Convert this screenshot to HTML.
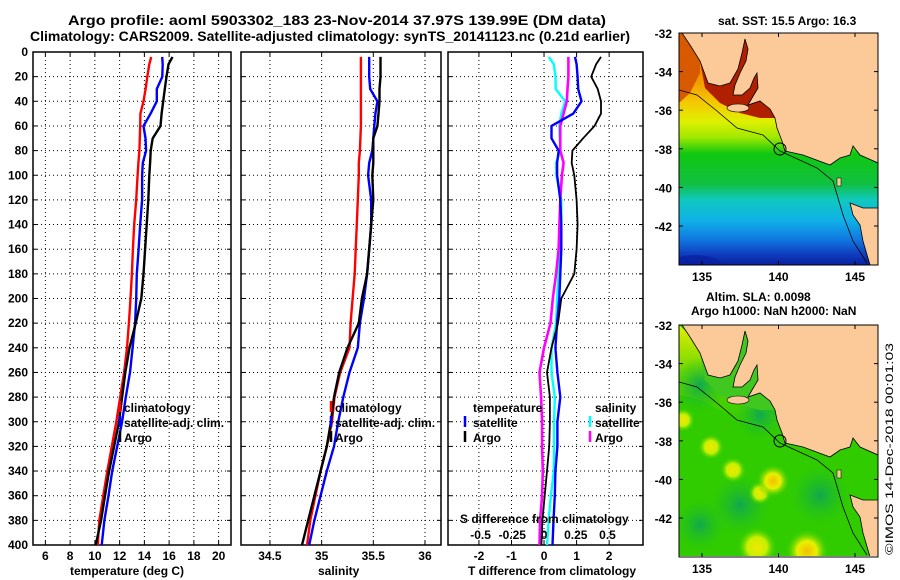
<!DOCTYPE html>
<html><head><meta charset="utf-8"><title>Argo profile</title>
<style>
html,body{margin:0;padding:0;background:#fff;}
svg{display:block;font-family:"Liberation Sans",sans-serif;font-weight:bold;}
text{fill:#000;}
</style></head>
<body>
<svg id="chart" width="900" height="580" viewBox="0 0 900 580" xmlns="http://www.w3.org/2000/svg">
<defs>
  <linearGradient id="sstGrad" x1="0" y1="0" x2="0" y2="1">
    <stop offset="0" stop-color="#e87000"/>
    <stop offset="0.2" stop-color="#f09800"/>
    <stop offset="0.3" stop-color="#f5c800"/>
    <stop offset="0.38" stop-color="#e0f000"/>
    <stop offset="0.45" stop-color="#a0e800"/>
    <stop offset="0.52" stop-color="#10c810"/>
    <stop offset="0.65" stop-color="#10c040"/>
    <stop offset="0.72" stop-color="#10c8c0"/>
    <stop offset="0.81" stop-color="#10b0e8"/>
    <stop offset="0.89" stop-color="#1078e0"/>
    <stop offset="0.95" stop-color="#1040c0"/>
    <stop offset="1" stop-color="#0820a0"/>
  </linearGradient>
  <radialGradient id="blob">
    <stop offset="0" stop-color="#f0e800"/>
    <stop offset="0.5" stop-color="#c8f000"/>
    <stop offset="1" stop-color="#30cc00" stop-opacity="0"/>
  </radialGradient>
  <radialGradient id="blobHot">
    <stop offset="0" stop-color="#f5c000"/>
    <stop offset="0.45" stop-color="#e8f000"/>
    <stop offset="1" stop-color="#30cc00" stop-opacity="0"/>
  </radialGradient>
  <radialGradient id="blobDark">
    <stop offset="0" stop-color="#10a850"/>
    <stop offset="1" stop-color="#20c020" stop-opacity="0"/>
  </radialGradient>
  <linearGradient id="coastYellow" x1="0" y1="0" x2="0" y2="1">
    <stop offset="0" stop-color="#e8f000"/>
    <stop offset="1" stop-color="#30cc00" stop-opacity="0"/>
  </linearGradient>
  <clipPath id="mapClip1"><rect x="679" y="33" width="199" height="232"/></clipPath>
  <clipPath id="mapClip2"><rect x="679" y="325" width="199" height="231"/></clipPath>
</defs>

<text x="68" y="25" font-size="13.5" textLength="538" lengthAdjust="spacingAndGlyphs">Argo profile: aoml 5903302_183 23-Nov-2014 37.97S 139.99E (DM data)</text>
<text x="30" y="41" font-size="13.5" textLength="600" lengthAdjust="spacingAndGlyphs">Climatology: CARS2009. Satellite-adjusted climatology: synTS_20141123.nc (0.21d earlier)</text>

<g id="panels"></g>
<g id="maps"></g>

<text transform="translate(893,555) rotate(-90)" font-size="11" font-weight="normal" textLength="212" lengthAdjust="spacingAndGlyphs">©IMOS 14-Dec-2018 00:01:03</text>
</svg>

<script>
// ---------- data ----------
const depths = [4,10,20,30,40,50,60,70,80,90,100,120,140,160,180,200,220,240,260,280,300,320,340,360,380,400];
const tempClim = [14.55,14.4,14.24,14.1,13.93,13.68,13.66,13.63,13.6,13.52,13.45,13.34,13.18,13.07,12.99,12.88,12.75,12.6,12.36,12.05,11.73,11.37,11.0,10.68,10.36,10.23];
const tempSat  = [15.44,15.48,15.45,15.0,15.0,14.5,13.93,14.09,14.14,13.87,13.82,13.82,13.66,13.53,13.39,13.34,13.25,13.05,12.84,12.5,12.2,11.8,11.4,11.1,10.77,10.55];
const tempArgo = [16.27,15.95,15.79,15.65,15.52,15.39,15.3,14.67,14.51,14.46,14.4,14.32,14.19,14.06,13.93,13.75,13.3,12.8,12.46,12.2,11.95,11.55,11.15,10.82,10.5,10.07];
const salClim = [35.38,35.38,35.38,35.38,35.38,35.38,35.38,35.375,35.37,35.36,35.36,35.35,35.34,35.33,35.32,35.30,35.28,35.27,35.18,35.125,35.1,35.05,34.99,34.94,34.89,34.86];
const salSat  = [35.46,35.46,35.46,35.47,35.54,35.52,35.51,35.50,35.49,35.46,35.45,35.48,35.48,35.46,35.44,35.41,35.37,35.35,35.27,35.21,35.16,35.12,35.05,34.99,34.93,34.88];
const salArgo = [35.57,35.57,35.57,35.56,35.56,35.55,35.54,35.5,35.5,35.5,35.49,35.5,35.48,35.46,35.44,35.39,35.36,35.25,35.17,35.12,35.09,35.05,34.99,34.93,34.87,34.81];
const tDiffSat  = [0.95,1.0,1.03,1.05,1.15,0.9,0.23,0.23,0.45,0.4,0.4,0.5,0.53,0.53,0.5,0.47,0.4,0.35,0.41,0.5,0.41,0.41,0.35,0.33,0.29,0.26];
const tDiffArgo = [1.75,1.6,1.45,1.65,1.75,1.75,1.55,1.2,0.87,0.85,0.93,1.0,1.03,1.0,0.93,0.53,0.43,0.23,0.09,0.18,0.18,0.16,0.09,0.02,-0.05,-0.08];
const sDiffSat  = [0.038,0.077,0.09,0.092,0.167,0.136,0.12,0.123,0.128,0.095,0.097,0.136,0.136,0.128,0.115,0.103,0.095,0.059,0.059,0.085,0.079,0.079,0.077,0.054,0.036,0.023];
const sDiffArgo = [0.192,0.192,0.192,0.185,0.179,0.154,0.128,0.128,0.128,0.154,0.141,0.128,0.121,0.115,0.095,0.069,0.051,0,-0.036,-0.023,-0.015,-0.015,-0.010,-0.015,-0.031,-0.036];
const depthTicks = [0,20,40,60,80,100,120,140,160,180,200,220,240,260,280,300,320,340,360,380,400];
const tempTicks = [6,8,10,12,14,16,18,20];
const salTicks = [34.5,35,35.5,36];
const salTickLabels = ["34.5","35","35.5","36"];
const tDiffTicks = [-2,-1,0,1,2];
const sDiffTicks = [-0.5,-0.25,0,0.25,0.5];
const sDiffTickLabels = ["-0.5","-0.25","0","0.25","0.5"];

// ---------- helpers ----------
const NS = "http://www.w3.org/2000/svg";
const root = document.getElementById('panels');
function mk(tag, parent, attrs){ const e=document.createElementNS(NS,tag); for(const k in attrs) e.setAttribute(k,attrs[k]); parent.appendChild(e); return e; }
const yTop=52, yBot=545;
function yScale(d){ return yTop + (d/400)*(yBot-yTop); }

function panel(name, x0, x1, xmin, xmax){
  const g = mk('g', root, {});
  
  
  const xs = v => x0 + (v-xmin)/(xmax-xmin)*(x1-x0);
  return {g, xs, x0, x1};
}
function grid(p, xticks, xlabels, xlabelName){
  const g=p.g;
  depthTicks.forEach(d=>{
    const y=yScale(d);
    if(d>0 && d<400){
      const l=mk('line',g,{x1:p.x0,x2:p.x1,y1:y,y2:y,stroke:'#000','stroke-width':1,'stroke-dasharray':'1,3'});
      
      
    }
    mk('line',g,{x1:p.x0,x2:p.x0+4,y1:y,y2:y,stroke:'#000'});
    mk('line',g,{x1:p.x1-4,x2:p.x1,y1:y,y2:y,stroke:'#000'});
  });
  xticks.forEach((v,i)=>{
    const x=p.xs(v);
    const l=mk('line',g,{x1:x,x2:x,y1:yTop,y2:yBot,stroke:'#000','stroke-width':1,'stroke-dasharray':'1,3'});
    
    
    mk('line',g,{x1:x,x2:x,y1:yBot-4,y2:yBot,stroke:'#000'});
    mk('line',g,{x1:x,x2:x,y1:yTop,y2:yTop+4,stroke:'#000'});
    const t=mk('text',g,{x:x,y:yBot+15,'font-size':12,'text-anchor':'middle'});
    t.textContent = xlabels ? xlabels[i] : String(v);
    
    
  });
  const r=mk('rect',g,{x:p.x0,y:yTop,width:p.x1-p.x0,height:yBot-yTop,fill:'none',stroke:'#000','stroke-width':1.5});
  
  
}
function line(p, vals, color, name, xsFn, w){
  const f = xsFn || p.xs;
  const pts = vals.map((v,i)=>f(v).toFixed(1)+','+yScale(depths[i]).toFixed(1)).join(' ');
  const pl = mk('polyline', p.g, {points:pts, fill:'none', stroke:color, 'stroke-width':w||2.4, 'stroke-linejoin':'miter'});
  
  
}
function txt(parent, x, y, s, name, opts){
  const t=mk('text',parent,Object.assign({x:x,y:y,'font-size':12},opts||{}));
  t.textContent=s;
  
  
  return t;
}
function dash(parent,x,y,color,name){
  const l=mk('line',parent,{x1:x,x2:x,y1:y-10,y2:y+1,stroke:color,'stroke-width':2.5});
  
  
}

// y tick labels
depthTicks.forEach(d=>{
  const t=mk('text',root,{x:28,y:yScale(d)+4,'font-size':12,'text-anchor':'end'});
  t.textContent=String(d);
  
  
});

// panel 1 temperature
const p1 = panel('temperature-panel', 33, 231, 5, 21);
grid(p1, tempTicks, null, 'temperature-tick-label');
line(p1, tempClim, '#ff0000', 'temperature-climatology-line');
line(p1, tempSat, '#0000ff', 'temperature-satellite-line');
line(p1, tempArgo, '#000000', 'temperature-argo-line');
txt(p1.g, 70, 575, 'temperature (deg C)', 'temperature-axis-title');
dash(p1.g, 120, 411, '#ff0000', 'legend-climatology-marker');
dash(p1.g, 120, 426, '#0000ff', 'legend-satellite-marker');
dash(p1.g, 120, 441, '#000000', 'legend-argo-marker');
txt(p1.g, 124, 412, 'climatology', 'legend-climatology-label');
txt(p1.g, 124, 427, 'satellite-adj. clim.', 'legend-satellite-label');
txt(p1.g, 124, 442, 'Argo', 'legend-argo-label');

// panel 2 salinity
const p2 = panel('salinity-panel', 241, 441, 34.22, 36.155);
grid(p2, salTicks, salTickLabels, 'salinity-tick-label');
line(p2, salClim, '#ff0000', 'salinity-climatology-line');
line(p2, salSat, '#0000ff', 'salinity-satellite-line');
line(p2, salArgo, '#000000', 'salinity-argo-line');
txt(p2.g, 318, 575, 'salinity', 'salinity-axis-title');
dash(p2.g, 331, 411, '#ff0000', 'legend-climatology-marker');
dash(p2.g, 331, 426, '#0000ff', 'legend-satellite-marker');
dash(p2.g, 331, 441, '#000000', 'legend-argo-marker');
txt(p2.g, 335, 412, 'climatology', 'legend-climatology-label');
txt(p2.g, 335, 427, 'satellite-adj. clim.', 'legend-satellite-label');
txt(p2.g, 335, 442, 'Argo', 'legend-argo-label');

// panel 3 differences
const p3 = panel('difference-panel', 448, 643, -2.95, 3.04);
grid(p3, tDiffTicks, null, 't-difference-tick-label');
const sx = v => p3.xs(v*3.9);
line(p3, sDiffSat, '#00ffff', 'salinity-satellite-diff-line', sx);
line(p3, sDiffArgo, '#ff00ff', 'salinity-argo-diff-line', sx, 2.6);
line(p3, tDiffSat, '#0000ff', 'temperature-satellite-diff-line');
line(p3, tDiffArgo, '#000000', 'temperature-argo-diff-line', null, 1.8);
txt(p3.g, 468, 575, 'T difference from climatology', 'difference-axis-title');
txt(p3.g, 460, 523, 'S difference from climatology', 'salinity-difference-axis-title');
sDiffTicks.forEach((v,i)=>{
  txt(p3.g, sx(v), 539, sDiffTickLabels[i], 's-difference-tick-label', {'text-anchor':'middle'});
});
txt(p3.g, 473, 412, 'temperature', 'legend-temperature-heading');
dash(p3.g, 465, 426, '#0000ff', 'legend-t-satellite-marker');
dash(p3.g, 465, 441, '#000000', 'legend-t-argo-marker');
txt(p3.g, 473, 427, 'satellite', 'legend-t-satellite-label');
txt(p3.g, 473, 442, 'Argo', 'legend-t-argo-label');
txt(p3.g, 595, 412, 'salinity', 'legend-salinity-heading');
dash(p3.g, 590, 426, '#00ffff', 'legend-s-satellite-marker');
dash(p3.g, 590, 441, '#ff00ff', 'legend-s-argo-marker');
txt(p3.g, 595, 427, 'satellite', 'legend-s-satellite-label');
txt(p3.g, 595, 442, 'Argo', 'legend-s-argo-label');

// ---------- maps ----------
const maps = document.getElementById('maps');
const mainland = "682,0 690,12 700,28 708,50 720,53 730,50 738,36 742,20 745,6 748,16 746,28 740,40 735,52 733,62 742,62 750,55 754,45 757,40 758,55 752,65 748,72 760,68 770,76 775,85 777,95 782,108 785,118 803,122 830,132 840,125 850,122 853,113 860,122 878,130 878,-2 682,-2";
const tasmania = "850,170 863,175 878,175 878,232 870,232 863,208 860,192 853,182";
const shelf = "679,57 697,62 717,78 737,95 763,102 780,118 817,135 833,148 843,182 853,208 867,230";
const gulf = "700,28 708,50 720,53 730,50 738,36 742,20 745,6 748,16 746,28 740,40 735,52 733,62 742,62 750,55 754,45 757,40 758,55 752,65 748,72 760,68 770,76 775,85 760,85 740,80 720,70 705,55";
const latTicks = [-32,-34,-36,-38,-40,-42];
const lonTicks = [135,140,145];

function mapFrame(name, top, clipId, kind){
  const g = mk('g', maps, {});
  
  
  const inner = mk('g', g, {'clip-path':'url(#'+clipId+')'});
  const t = mk('g', inner, {transform:'translate(0,'+top+')'});
  if(kind==='sst'){
    mk('rect', t, {x:679,y:0,width:199,height:232,fill:'url(#sstGrad)'});
    mk('polygon', t, {points:gulf, fill:'#b02000'});
    mk('polygon', t, {points:"679,0 700,0 700,40 690,60 679,70", fill:'#d85a00'});
    mk('ellipse', t, {cx:695,cy:232,rx:26,ry:10,fill:'#0820a0',opacity:0.7});
  } else {
    mk('rect', t, {x:679,y:0,width:199,height:232,fill:'#30cc00'});
    mk('polygon', t, {points:"679,0 700,20 710,55 740,70 775,90 785,118 760,108 730,90 700,75 679,70", fill:'url(#coastYellow)'});
    [[700,60,28],[760,90,25],[740,180,30],[820,170,30],[700,200,25]].forEach(b=>mk('circle',t,{cx:b[0],cy:b[1],r:b[2],fill:'url(#blobDark)'}));
    [[711,122,13],[733,145,13],[683,95,12],[757,222,20],[760,168,12]].forEach(b=>mk('circle',t,{cx:b[0],cy:b[1],r:b[2],fill:'url(#blob)'}));
    mk('circle',t,{cx:773,cy:156,r:17,fill:'url(#blobHot)'});
    mk('circle',t,{cx:807,cy:226,r:22,fill:'url(#blobHot)'});
    mk('polygon', t, {points:gulf, fill:'#40c820'});
  }
  const land = mk('polygon', t, {points:mainland, fill:'#fbca98', stroke:'#000', 'stroke-width':0.8});
  
  
  mk('ellipse', t, {cx:738,cy:75,rx:11,ry:4,fill:'#fbca98',stroke:'#000','stroke-width':0.6});
  mk('polygon', t, {points:tasmania, fill:'#fbca98', stroke:'#000','stroke-width':0.8});
  mk('rect', t, {x:837,y:145,width:4,height:8,fill:'#fbca98',stroke:'#000','stroke-width':0.5});
  mk('polyline', t, {points:shelf, fill:'none', stroke:'#000','stroke-width':0.8});
  const m = mk('circle', t, {cx:780,cy:116,r:6,fill:'none',stroke:'#000','stroke-width':1});
  
  
  mk('rect', g, {x:679,y:top,width:199,height:232,fill:'none',stroke:'#000','stroke-width':1});
  latTicks.forEach(l=>{
    const y = top + (-32-l)*19.3;
    const tt = mk('text', g, {x:672,y:y+5,'font-size':12,'text-anchor':'end'});
    tt.textContent = String(l);
    
    
    mk('line', g, {x1:679,x2:683,y1:y,y2:y,stroke:'#000'});
    mk('line', g, {x1:874,x2:878,y1:y,y2:y,stroke:'#000'});
  });
  lonTicks.forEach(l=>{
    const x = 702 + (l-135)*15.3;
    const tt = mk('text', g, {x:x,y:top+248,'font-size':12,'text-anchor':'middle'});
    tt.textContent = String(l);
    
    
    mk('line', g, {x1:x,x2:x,y1:top+228,y2:top+232,stroke:'#000'});
    mk('line', g, {x1:x,x2:x,y1:top,y2:top+4,stroke:'#000'});
  });
}
mapFrame('sst-map', 33, 'mapClip1', 'sst');
mapFrame('sla-map', 325, 'mapClip2', 'sla');
txt(maps, 718, 25, 'sat. SST: 15.5 Argo: 16.3', 'sst-map-title', {'font-size':12});
txt(maps, 706, 301, 'Altim. SLA: 0.0098', 'sla-map-title', {'font-size':12});
txt(maps, 691, 315, 'Argo h1000: NaN h2000: NaN', 'sla-map-subtitle', {'font-size':12});
</script>
</body></html>
